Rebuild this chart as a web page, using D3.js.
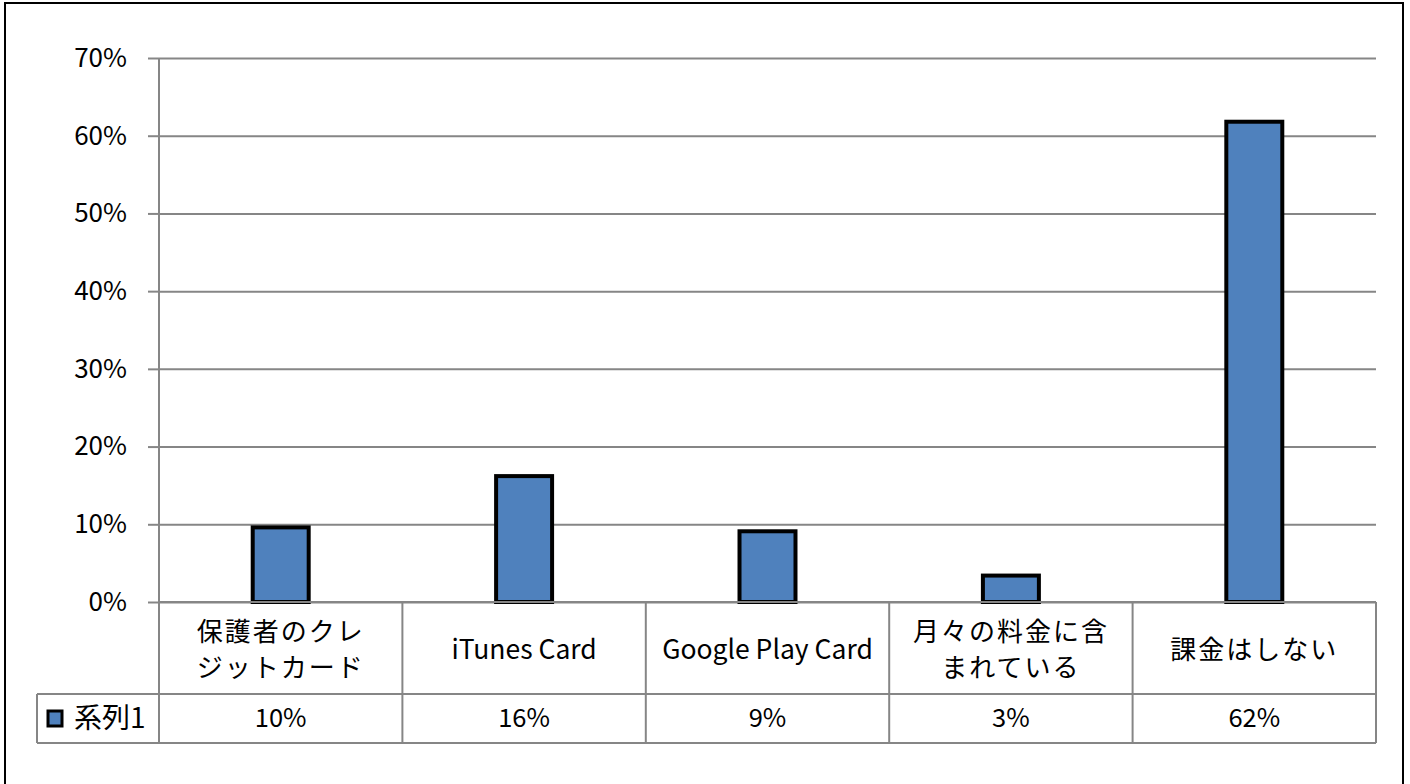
<!DOCTYPE html>
<html>
<head>
<meta charset="utf-8">
<script src="https://cdn.jsdelivr.net/npm/d3@7"></script>
<style>
  html, body { margin: 0; padding: 0; background: #fff; }
  svg { display: block; }
  text { font-family: "Noto Sans CJK JP", "Noto Sans", sans-serif; fill: #000; }
</style>
</head>
<body>
<svg id="chart" width="1410" height="784"></svg>
<script>
// Payment methods (category lines split with \n)
const categories = [
  "保護者のクレ\nジットカード",
  "iTunes Card",
  "Google Play Card",
  "月々の料金に含\nまれている",
  "課金はしない"
];
const seriesName = "系列1";
const values = [0.096, 0.162, 0.091, 0.034, 0.618];
const yTicks = [0, 0.1, 0.2, 0.3, 0.4, 0.5, 0.6, 0.7];

const svg = d3.select("#chart");

const plot = { left: 159, right: 1376, top: 58, bottom: 602 };
const tableRow1 = 694, tableRow2 = 743, legendLeft = 37;
const gridColor = "#868686";
const latinFont = "'Open Sans', 'Noto Sans', sans-serif";
const fmt = d3.format(".0%");

// Outer frame
svg.append("rect")
  .attr("x", 5).attr("y", 3)
  .attr("width", 1398).attr("height", 800)
  .attr("fill", "#fff").attr("stroke", "#000").attr("stroke-width", 2);

const x = d3.scaleBand().domain(categories).range([plot.left, plot.right]).padding(0);
const y = d3.scaleLinear().domain([0, 0.7]).range([plot.bottom, plot.top]);

// Horizontal gridlines with tick labels
const yAxis = d3.axisLeft(y).tickValues(yTicks).tickFormat(fmt)
  .tickSize(-(plot.right - plot.left)).tickPadding(32);
const gy = svg.append("g").attr("transform", `translate(${plot.left},0)`).call(yAxis);
gy.select(".domain").remove();
gy.selectAll(".tick line").attr("stroke", gridColor).attr("stroke-width", 2);
gy.selectAll(".tick text").attr("font-size", 26).attr("font-family", latinFont);
// short outer tick marks
gy.selectAll(".tick").append("line")
  .attr("x1", -11).attr("x2", 0)
  .attr("stroke", gridColor).attr("stroke-width", 2);

// Bars
const barW = x.bandwidth() * 0.23;
svg.append("g").selectAll("rect").data(values).join("rect")
  .attr("x", (d, i) => x(categories[i]) + x.bandwidth() / 2 - barW / 2)
  .attr("y", d => y(d))
  .attr("width", barW)
  .attr("height", d => y(0) - y(d))
  .attr("fill", "#4F81BD")
  .attr("stroke", "#000")
  .attr("stroke-width", 4);

// Vertical axis line
svg.append("line")
  .attr("x1", plot.left).attr("x2", plot.left)
  .attr("y1", plot.top).attr("y2", tableRow2)
  .attr("stroke", gridColor).attr("stroke-width", 2);

// Data table
const table = svg.append("g").attr("stroke", gridColor).attr("stroke-width", 2);
table.append("line").attr("x1", plot.left).attr("x2", plot.right)
  .attr("y1", plot.bottom).attr("y2", plot.bottom);
table.append("line").attr("x1", legendLeft).attr("x2", plot.right)
  .attr("y1", tableRow1).attr("y2", tableRow1);
table.append("line").attr("x1", legendLeft).attr("x2", plot.right)
  .attr("y1", tableRow2).attr("y2", tableRow2);
table.append("line").attr("x1", legendLeft).attr("x2", legendLeft)
  .attr("y1", tableRow1).attr("y2", tableRow2);
table.selectAll(".sep").data(categories).join("line")
  .attr("x1", d => x(d) + x.bandwidth()).attr("x2", d => x(d) + x.bandwidth())
  .attr("y1", plot.bottom).attr("y2", tableRow2);

// Category labels
const catG = svg.append("g");
const isCJK = s => /[\u3000-\u9fff]/.test(s);
categories.forEach(c => {
  const lines = c.split("\n");
  const cx = x(c) + x.bandwidth() / 2;
  const mid = (plot.bottom + tableRow1) / 2 + 2;
  const lh = 36;
  const t = catG.append("text")
    .attr("text-anchor", "middle")
    .attr("font-size", isCJK(c) ? 26 : 26.5)
    .attr("font-family", isCJK(c) ? null : latinFont)
    .attr("letter-spacing", isCJK(c) ? 2 : 0);
  lines.forEach((ln, i) => {
    t.append("tspan")
      .attr("x", cx)
      .attr("y", mid + (i - (lines.length - 1) / 2) * lh)
      .attr("dy", "0.35em")
      .text(ln);
  });
});

// Value row
svg.append("g").selectAll("text").data(values).join("text")
  .attr("x", (d, i) => x(categories[i]) + x.bandwidth() / 2)
  .attr("y", (tableRow1 + tableRow2) / 2)
  .attr("dy", "0.35em")
  .attr("text-anchor", "middle")
  .attr("font-size", 25.5)
  .attr("font-family", latinFont)
  .text(d => fmt(d));

// Legend key in the table
const rowMid = (tableRow1 + tableRow2) / 2;
svg.append("rect")
  .attr("x", 48).attr("y", rowMid - 7.5)
  .attr("width", 14).attr("height", 15)
  .attr("fill", "#4F81BD").attr("stroke", "#000").attr("stroke-width", 3);
svg.append("text")
  .attr("x", 74).attr("y", rowMid).attr("dy", "0.35em")
  .attr("font-size", 28)
  .text(seriesName);
</script>
</body>
</html>
